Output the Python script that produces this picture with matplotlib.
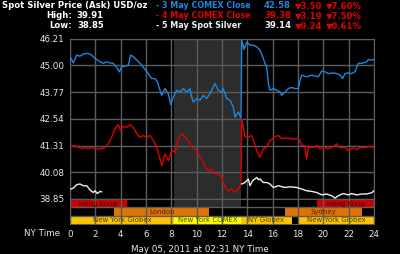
import numpy as np
import matplotlib
matplotlib.use("Agg")
import matplotlib.pyplot as plt

# ---- data (hours NY time, USD/oz) ----
blue_t = [0.08, 0.26, 0.53, 0.79, 1.05, 1.44, 1.71, 1.97, 2.37, 2.63, 2.90, 3.16, 3.42,
          3.69, 3.89, 4.08, 4.34, 4.60, 4.79, 5.00, 5.27, 5.53, 5.66, 5.92, 6.18, 6.45,
          6.71, 6.89, 7.11, 7.24, 7.50, 7.76, 7.95, 8.16, 8.42, 8.68, 8.95, 9.21, 9.47,
          9.61, 9.73, 10.00, 10.26, 10.52, 10.79, 11.05, 11.31, 11.45, 11.71, 11.98, 12.10,
          12.37, 12.63, 12.89, 13.03, 13.29, 13.50, 13.56, 13.74, 13.95, 14.21, 14.47,
          14.74, 15.00, 15.26, 15.39, 15.53, 15.66, 15.79, 16.05, 16.32, 16.58, 16.71,
          16.97, 17.23, 17.50, 17.76, 18.02, 18.16, 18.29, 18.68, 19.08, 19.60, 19.87,
          20.13, 20.39, 20.79, 21.05, 21.32, 21.53, 21.71, 21.97, 22.24, 22.50, 22.76,
          23.03, 23.42, 23.55, 23.82, 24.00]
blue_v = [45.32, 45.11, 45.47, 45.42, 45.52, 45.55, 45.47, 45.32, 45.16, 45.09, 45.16, 45.11, 45.09,
          44.90, 44.70, 44.93, 44.96, 45.01, 45.47, 45.39, 45.24, 45.09, 45.01, 44.81, 44.62, 44.39,
          44.39, 44.24, 43.85, 43.62, 43.93, 43.70, 43.20, 43.54, 43.85, 43.77, 43.93, 43.77, 43.93,
          43.54, 43.31, 43.47, 43.39, 43.62, 43.47, 43.70, 44.00, 44.16, 43.85, 43.77, 43.93,
          43.47, 43.39, 43.08, 42.62, 42.85, 42.59, 46.16, 45.73, 46.07, 45.93, 45.93,
          45.85, 45.70, 45.32, 45.09, 44.93, 44.16, 43.85, 43.93, 43.85, 43.77, 43.62,
          43.77, 43.93, 43.98, 43.93, 43.93, 44.31, 44.55, 44.47, 44.55, 44.47, 44.74,
          44.70, 44.62, 44.65, 44.62, 44.55, 44.39, 44.62, 44.65, 44.62, 44.70, 45.09,
          45.09, 45.16, 45.27, 45.24, 45.27]

red_t = [0.08, 0.39, 0.66, 0.92, 1.18, 1.44, 1.71, 1.97, 2.23, 2.50, 2.76, 3.02, 3.29,
         3.55, 3.81, 4.00, 4.21, 4.48, 4.74, 5.00, 5.27, 5.53, 5.79, 6.06, 6.32, 6.58,
         6.84, 7.11, 7.24, 7.50, 7.76, 8.03, 8.29, 8.55, 8.82, 9.08, 9.34, 9.61, 9.87,
         10.13, 10.39, 10.66, 10.92, 11.19, 11.45, 11.71, 11.98, 12.24, 12.50, 12.76,
         13.03, 13.29, 13.50, 13.56, 13.82, 14.08, 14.34, 14.61, 14.79, 15.00, 15.26,
         15.53, 15.79, 16.18, 16.45, 16.71, 17.11, 17.50, 17.90, 18.16, 18.29, 18.55,
         18.68, 18.81, 19.21, 19.47, 19.74, 20.13, 20.39, 20.79, 21.05, 21.32, 21.71,
         21.97, 22.37, 22.63, 22.89, 23.16, 23.42, 23.68, 24.00]
red_v = [41.26, 41.31, 41.23, 41.16, 41.23, 41.16, 41.23, 41.16, 41.16, 41.16, 41.23, 41.39, 41.69,
         42.08, 42.27, 42.00, 42.19, 42.15, 42.27, 42.15, 41.85, 41.69, 41.77, 41.69, 41.77, 41.54,
         41.23, 40.69, 40.38, 40.92, 40.61, 41.08, 41.00, 41.62, 41.85, 41.69, 41.54, 41.23, 41.16,
         40.92, 40.69, 40.31, 40.15, 40.23, 40.00, 40.00, 39.84, 39.38, 39.23, 39.31,
         39.15, 39.31, 39.54, 42.54, 41.72, 41.69, 41.77, 41.31, 41.00, 40.77, 41.16,
         41.23, 41.54, 41.72, 41.77, 41.62, 41.66, 41.62, 41.62, 41.54, 41.31, 41.31,
         40.69, 41.23, 41.23, 41.31, 41.16, 41.23, 41.16, 41.26, 41.39, 41.20, 41.23,
         41.08, 41.20, 41.12, 41.23, 41.20, 41.23, 41.26, 41.23]

white_t1 = [0.08, 0.26, 0.53, 0.79, 1.05, 1.32, 1.44, 1.58, 1.84, 1.97, 2.16, 2.37, 2.50]
white_v1 = [39.31, 39.35, 39.51, 39.54, 39.46, 39.46, 39.37, 39.26, 39.15, 39.23, 39.10, 39.20, 39.18]
white_t2 = [13.56, 13.82, 14.08, 14.21, 14.41, 14.74, 14.87, 15.00, 15.26, 15.53, 15.79, 16.05,
            16.45, 16.97, 17.37, 17.90, 18.29, 18.68, 19.08, 19.47, 19.87, 20.26, 20.66,
            20.92, 21.18, 21.58, 21.97, 22.24, 22.63, 23.03, 23.42, 23.82, 24.00]
white_v2 = [39.54, 39.61, 39.77, 39.46, 39.69, 39.84, 39.74, 39.77, 39.61, 39.61, 39.54, 39.38,
            39.46, 39.38, 39.41, 39.38, 39.31, 39.23, 39.20, 39.15, 39.04, 39.08, 39.00,
            38.89, 39.00, 39.10, 39.04, 39.10, 39.04, 39.08, 39.08, 39.14, 39.23]

y_ticks = [38.85, 40.08, 41.31, 42.54, 43.77, 45.00, 46.21]
x_ticks = list(range(0, 25, 2))
comex_hours = (8.23, 13.5)

# trading sessions: name, start, end, row (0 top), colour
sess_names = ["Hong Kong", "Hong Kong", "London", "Sydney",
              "New York Globex", "New York COMEX", "NY Globex", "New York Globex"]
sess_start = [0, 19.5, 3.5, 17.0, 0, 8.23, 13.5, 18.0]
sess_end = [4.47, 24, 11.0, 23.05, 8.23, 13.5, 17.5, 24]
sess_row = [0, 0, 1, 1, 2, 2, 2, 2]
sess_col = ["#cc0000", "#cc0000", "#e07400", "#e07400",
            "#ffc400", "#ffff00", "#ffc400", "#ffc400"]
sess_txt = ["#3a0000", "#3a0000", "#4a2000", "#4a2000",
            "#4a3a00", "#4a4a00", "#4a3a00", "#4a3a00"]

legend_rows = [
    ("- 3 May COMEX Close", "42.58", "\u25bc3.50", "\u25bc7.60%", "#1a88e0", "#1a88e0"),
    ("- 4 May COMEX Close", "39.38", "\u25bc3.19", "\u25bc7.50%", "#e00000", "#e00000"),
    ("- 5 May Spot Silver", "39.14", "\u25bc0.24", "\u25bc0.61%", "#f0f0f0", "#f0f0f0"),
]

W, H = 400, 254
grid_c = "#5c5c5c"
txt_c = "#e8e8e8"

fig = plt.figure(figsize=(W / 100, H / 100), dpi=100, facecolor="black")

def fx(px):
    return px / W

def fy(py):
    return 1 - py / H

# main price panel
ax = fig.add_axes([fx(70), fy(199), fx(304), 160 / H], facecolor="black")
ax.axvspan(*comex_hours, color="#2c2c2c", zorder=0, lw=0)
ax.plot(blue_t, blue_v, color="#1a88e0", lw=1.0, zorder=3)
ax.plot(red_t, red_v, color="#e00000", lw=1.0, zorder=3)
ax.plot(white_t1, white_v1, color="#f0f0f0", lw=1.0, zorder=3)
ax.plot(white_t2, white_v2, color="#f0f0f0", lw=1.0, zorder=3)
ax.set_xlim(0, 24)
ax.set_ylim(38.85, 46.21)
ax.set_xticks(x_ticks)
ax.set_yticks(y_ticks)
ax.set_yticklabels(["%.2f" % v for v in y_ticks])
ax.tick_params(axis="x", length=0, labelbottom=False)
ax.tick_params(axis="y", length=0, pad=4, colors=txt_c, labelsize=6.3)
ax.grid(True, color=grid_c, lw=1, zorder=1)
for s in ax.spines.values():
    s.set_color(grid_c)

# sessions panel
bx = fig.add_axes([fx(70), fy(224), fx(304), 25 / H], facecolor="black")
bx.barh([0], [comex_hours[1] - comex_hours[0]], left=comex_hours[0], height=1,
        align="edge", color="#2c2c2c", lw=0, zorder=0)
for name, a, b, r, c, tc in zip(sess_names, sess_start, sess_end, sess_row, sess_col, sess_txt):
    bx.barh([r], [b - a], left=a, height=1, align="edge", color=c, lw=0, zorder=1)
    bx.text((a + b) / 2, r + 0.55, name, ha="center", va="center",
            fontsize=5, color=tc, zorder=3)
bx.set_xlim(0, 24)
bx.set_ylim(3, 0)
bx.set_xticks(x_ticks)
bx.set_yticks([1, 2])
bx.tick_params(axis="y", length=0, labelleft=False)
bx.tick_params(axis="x", length=0, pad=4, colors=txt_c, labelsize=6.3)
bx.grid(True, color=grid_c, lw=1, zorder=2)
bx.set_axisbelow(False)
for s in bx.spines.values():
    s.set_color(grid_c)

# header
hdr = dict(color="white", fontsize=6.1, fontweight="bold", va="center")
fig.text(fx(2), fy(6), "Spot Silver Price (Ask) USD/oz", ha="left", **hdr)
fig.text(fx(72), fy(16), "High:", ha="right", **hdr)
fig.text(fx(104), fy(16), "39.91", ha="right", **hdr)
fig.text(fx(72), fy(26), "Low:", ha="right", **hdr)
fig.text(fx(104), fy(26), "38.85", ha="right", **hdr)

for i, (lab, val, chg, pct, lc, vc) in enumerate(legend_rows):
    y = fy(6 + 10 * i)
    fig.text(fx(156), y, lab, ha="left", **dict(hdr, color=lc, fontsize=5.8))
    fig.text(fx(264), y, val, ha="left", **dict(hdr, color=vc))
    fig.text(fx(295), y, chg, ha="left", **dict(hdr, color="#e00000"))
    fig.text(fx(326), y, pct, ha="left", **dict(hdr, color="#e00000"))

fig.text(fx(60), fy(233), "NY Time", ha="right", va="center", color=txt_c, fontsize=6.3)
fig.text(fx(200), fy(249), "May 05, 2011 at 02:31 NY Time", ha="center", va="center",
         color=txt_c, fontsize=6.3)

fig.savefig("out.png", dpi=100, facecolor="black")
